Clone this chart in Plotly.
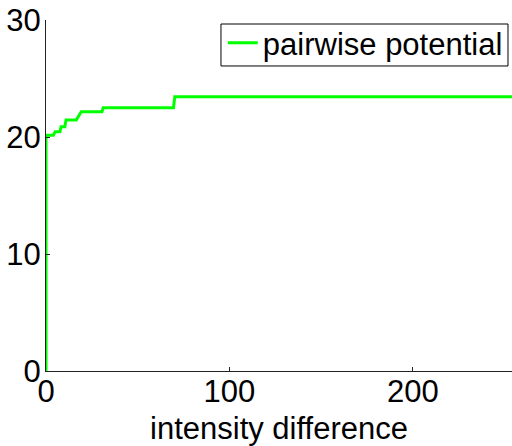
import plotly.graph_objects as go

# data (intensity difference vs pairwise potential)
x_vals = [0, 0, 4.0, 5.0, 7.6, 8.2, 10.3, 10.9, 16.5, 19.2, 30.5, 31.2, 69.5, 70.2, 255]
y_vals = [0, 20.16, 20.16, 20.45, 20.45, 20.87, 20.87, 21.45, 21.45, 22.16, 22.16, 22.5, 22.5, 23.44, 23.44]
x_ticks = [0, 100, 200]
y_ticks = [0, 10, 20, 30]
series_name = "pairwise potential"
x_title = "intensity difference"

FONT = "Liberation Sans, Arial, Helvetica, sans-serif"
FS = 31

fig = go.Figure()
fig.add_trace(go.Scatter(x=x_vals, y=y_vals, mode="lines", name=series_name,
                         line=dict(color="#00ff00", width=3)))

# legend frame drawn as a paper-referenced rectangle
fig.add_shape(type="rect", xref="paper", yref="paper",
              x0=0.3755, x1=0.9914, y0=0.869, y1=0.9886,
              line=dict(color="black", width=1), fillcolor="white", layer="below")

fig.update_layout(
    width=512, height=446,
    margin=dict(l=46, r=0, t=20, b=75, pad=0, autoexpand=False),
    paper_bgcolor="white", plot_bgcolor="white",
    font=dict(family=FONT, size=FS, color="black"),
    showlegend=True,
    legend=dict(xref="paper", yref="paper", x=0.991, y=1.011,
                xanchor="right", yanchor="top",
                bgcolor="rgba(0,0,0,0)", borderwidth=0,
                font=dict(size=FS), itemwidth=30,
                tracegroupgap=0),
    xaxis=dict(range=[0, 254], tickvals=x_ticks, ticks="inside", ticklen=4,
               tickcolor="#222", showline=True, linecolor="#222", linewidth=1,
               showgrid=False, zeroline=False, mirror=False, automargin=False,
               ticklabelstandoff=-7,
               title=dict(text=x_title, standoff=15, font=dict(size=FS))),
    yaxis=dict(range=[0, 30], tickvals=y_ticks, ticks="inside", ticklen=4,
               tickcolor="#222", showline=True, linecolor="#222", linewidth=1,
               showgrid=False, zeroline=False, mirror=False, automargin=False,
               ticklabelstandoff=-2),
)

fig.write_html("out.html")
